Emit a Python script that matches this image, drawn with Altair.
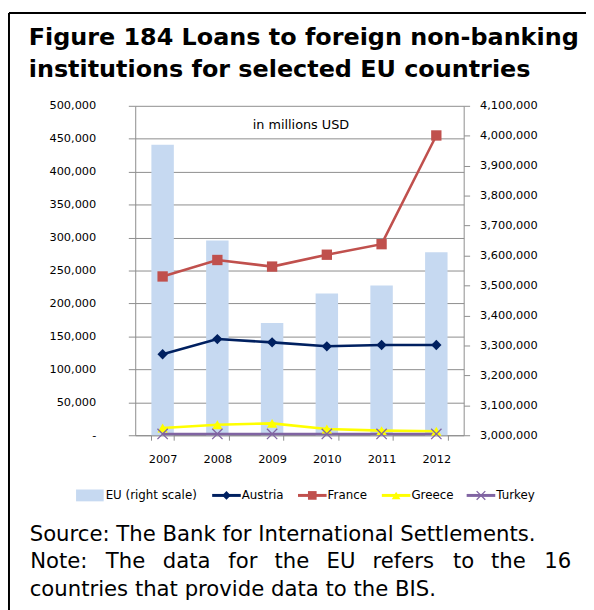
import altair as alt
import pandas as pd

# ---------------- data ----------------
years = ["2007", "2008", "2009", "2010", "2011", "2012"]
eu = [3970000, 3650000, 3375000, 3473000, 3500000, 3611000]      # right scale
austria = [123000, 146000, 141000, 135000, 137000, 137000]
france = [241000, 266000, 256000, 274000, 290000, 455000]
greece = [11000, 16000, 18000, 9500, 7000, 6000]
turkey = [2000, 2000, 2000, 2000, 2000, 2000]

left_ticks = [0, 50000, 100000, 150000, 200000, 250000, 300000, 350000, 400000, 450000, 500000]
right_ticks = [3000000, 3100000, 3200000, 3300000, 3400000, 3500000, 3600000,
               3700000, 3800000, 3900000, 4000000, 4100000]

series_names = ["Austria", "France", "Greece", "Turkey"]
series_colors = ["#002060", "#C0504D", "#FFFF00", "#8064A2"]
EU_COLOR = "#C6D9F1"
GRAY = "#8C8C8C"
FONT = "DejaVu Sans"

df = pd.DataFrame({"year": years, "EU": eu, "Austria": austria, "France": france,
                   "Greece": greece, "Turkey": turkey})
long = df.melt(id_vars="year", value_vars=series_names, var_name="series", value_name="value")

CROSS = "M-1,-1L1,1M1,-1L-1,1"
shapes = {"Austria": ("diamond", True, 110), "France": ("square", True, 110),
          "Greece": ("triangle-up", True, 110), "Turkey": (CROSS, False, 110)}

W, H = 333, 334

x_enc = alt.X("year:N", title=None,
              scale=alt.Scale(paddingInner=0.59, paddingOuter=0.295),
              axis=alt.Axis(labelAngle=0, tickBand="extent", tickSize=5, tickColor=GRAY,
                            domainColor=GRAY, labelPadding=14, grid=False))

y_left = alt.Y("value:Q", title=None,
               scale=alt.Scale(domain=[0, 500000], nice=False),
               axis=alt.Axis(orient="left", values=left_ticks,
                             labelExpr="datum.value == 0 ? '-\u00a0\u00a0\u00a0' : format(datum.value, ',')",
                             tickSize=7, tickColor=GRAY, domainColor=GRAY, labelPadding=33,
                             grid=True, gridColor=GRAY, gridWidth=1))

bars = alt.Chart(df).mark_bar(color=EU_COLOR).encode(
    x=x_enc,
    y=alt.Y("EU:Q", title=None,
            scale=alt.Scale(domain=[3000000, 4100000], nice=False, zero=False),
            axis=alt.Axis(orient="right", values=right_ticks,
                          labelExpr="format(datum.value, ',')", tickSize=6,
                          tickColor=GRAY, domainColor=GRAY, labelPadding=10, grid=False)),
    y2=alt.datum(3000000),
)

country_layers = []
for name, col in zip(series_names, series_colors):
    base = alt.Chart(long).transform_filter(alt.datum.series == name)
    country_layers.append(base.mark_line(color=col, strokeWidth=2.6).encode(x=x_enc, y=y_left))
for name, col in zip(series_names, series_colors):
    shp, filled, size = shapes[name]
    base = alt.Chart(long).transform_filter(alt.datum.series == name)
    country_layers.append(
        base.mark_point(shape=shp, filled=filled, size=size, color=col, opacity=1,
                        strokeWidth=1.3).encode(x=x_enc, y=y_left))


def label(text, x, y, size=12, weight="normal", align="left", baseline="alphabetic"):
    return alt.Chart(pd.DataFrame({"t": [text]})).mark_text(
        font=FONT, fontSize=size, fontWeight=weight, align=align, baseline=baseline,
        color="black").encode(x=alt.value(x), y=alt.value(y), text="t:N")


deco = []
# frame
deco.append(alt.Chart(pd.DataFrame({"a": [0]})).mark_rule(color="black", strokeWidth=2).encode(
    x=alt.value(-128), y=alt.value(-94), y2=alt.value(520)))
deco.append(alt.Chart(pd.DataFrame({"a": [0]})).mark_rule(color="black", strokeWidth=2).encode(
    x=alt.value(-128), x2=alt.value(470), y=alt.value(-94)))
# title
deco.append(label("Figure 184 Loans to foreign non-banking", -108, -62, 24.2, "bold"))
deco.append(label("institutions for selected EU countries", -108, -29, 24.2, "bold"))
# inner note
deco.append(label("in millions USD", 168, 24, 13, align="center"))

# legend
LY = 395
deco.append(alt.Chart(pd.DataFrame({"a": [0]})).mark_rect(color=EU_COLOR).encode(
    x=alt.value(-60), x2=alt.value(-32), y=alt.value(LY - 6), y2=alt.value(LY + 6)))
deco.append(label("EU (right scale)", -30, LY, 12, baseline="middle"))
leg_x = {"Austria": 78, "France": 165, "Greece": 250, "Turkey": 336}
for name, col in zip(series_names, series_colors):
    x0 = leg_x[name]
    shp, filled, size = shapes[name]
    d = pd.DataFrame({"a": [0]})
    deco.append(alt.Chart(d).mark_rule(color=col, strokeWidth=3).encode(
        x=alt.value(x0), x2=alt.value(x0 + 29), y=alt.value(LY)))
    deco.append(alt.Chart(d).mark_point(shape=shp, filled=filled, size=size * 0.7, color=col,
                                        opacity=1, strokeWidth=1.3).encode(
        x=alt.value(x0 + 14.5), y=alt.value(LY)))
    deco.append(label(name, x0 + 30, LY, 12, baseline="middle"))

# footer (second line justified)
FS = 21.5
deco.append(label("Source: The Bank for International Settlements.", -107, 441, FS))
note_words = [("Note:", -106.5), ("The", -29.8), ("data", 27.9), ("for", 94.4), ("the", 141.2),
              ("EU", 194), ("refers", 240.5), ("to", 322.2), ("the", 360.6)]
for w, xx in note_words:
    deco.append(label(w, xx, 469, FS))
deco.append(label("16", 442, 469, FS, align="right"))
deco.append(label("countries that provide data to the BIS.", -107, 497, FS))

left_group = alt.layer(*country_layers, *deco)

chart = alt.layer(bars, left_group).resolve_scale(y="independent").properties(
    width=W, height=H,
    autosize=alt.AutoSizeParams(type="none"),
    padding={"left": 129, "top": 95, "right": 124, "bottom": 173},
).configure_view(stroke="transparent").configure_axis(
    labelFont=FONT, labelFontSize=11.5, labelColor="black"
)

chart.save("out.html", embed_options={"renderer": "svg", "actions": False})
